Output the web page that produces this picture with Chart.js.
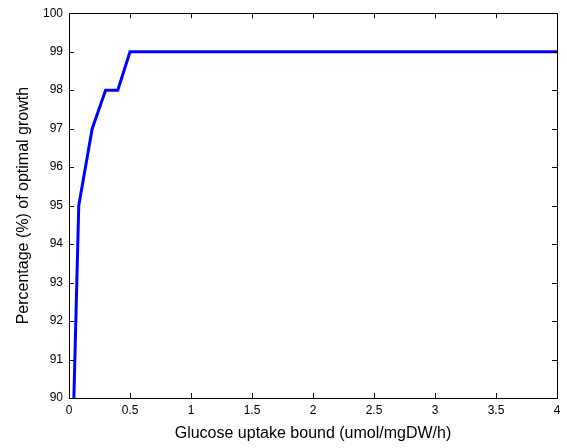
<!DOCTYPE html>
<html>
<head>
<meta charset="utf-8">
<script src="https://cdn.jsdelivr.net/npm/chart.js@4"></script>
<style>
  html, body { margin: 0; padding: 0; background: #fff; }
  #wrap { width: 567px; height: 448px; }
</style>
</head>
<body>
<div id="wrap"><canvas id="chart" width="567" height="448"></canvas></div>
<script>
// glucose uptake bound vs % of optimal growth
const uptake = [0.04, 0.08, 0.19, 0.3, 0.4, 0.5, 4];
const growth = [90, 95, 97, 98, 98, 99, 99];
const xTicks = [0, 0.5, 1, 1.5, 2, 2.5, 3, 3.5, 4];
const yTicks = [90, 91, 92, 93, 94, 95, 96, 97, 98, 99, 100];

const points = uptake.map((x, i) => ({ x: x, y: growth[i] }));
const font = "'Liberation Sans', Arial, sans-serif";

// matlab style box with inward ticks
const boxTicks = {
  id: "boxTicks",
  afterDraw(chart) {
    const { ctx, chartArea: a, scales } = chart;
    const len = 5;
    ctx.save();
    ctx.strokeStyle = "#000";
    ctx.lineWidth = 1;
    ctx.beginPath();
    xTicks.forEach((v) => {
      const px = Math.round(scales.x.getPixelForValue(v)) + 0.5;
      ctx.moveTo(px, a.bottom); ctx.lineTo(px, a.bottom - len);
      ctx.moveTo(px, a.top); ctx.lineTo(px, a.top + len);
    });
    yTicks.forEach((v) => {
      const py = Math.round(scales.y.getPixelForValue(v)) + 0.5;
      ctx.moveTo(a.left, py); ctx.lineTo(a.left + len, py);
      ctx.moveTo(a.right, py); ctx.lineTo(a.right - len, py);
    });
    ctx.stroke();
    ctx.strokeRect(Math.round(a.left) + 0.5, Math.round(a.top) + 0.5,
      Math.round(a.right - a.left), Math.round(a.bottom - a.top));
    ctx.restore();
  }
};

new Chart(document.getElementById("chart"), {
  type: "line",
  data: {
    datasets: [{
      data: points,
      borderColor: "#0000ff",
      borderWidth: 3,
      pointRadius: 0,
      tension: 0,
      fill: false
    }]
  },
  options: {
    responsive: false,
    animation: false,
    layout: { padding: { top: 12, right: 10, left: 0, bottom: 0 } },
    plugins: { legend: { display: false }, tooltip: { enabled: false } },
    scales: {
      x: {
        type: "linear",
        min: 0,
        max: 4,
        afterBuildTicks: (s) => { s.ticks = xTicks.map((v) => ({ value: v })); },
        afterFit: (s) => { s.height = 50; },
        grid: { display: false, drawTicks: false },
        border: { display: false },
        ticks: {
          padding: 5,
          color: "#000",
          font: { family: font, size: 12 },
          callback: (v) => String(v)
        },
        title: {
          display: true,
          text: "Glucose uptake bound (umol/mgDW/h)",
          color: "#000",
          font: { family: font, size: 16 },
          padding: { top: 0, bottom: 5 }
        }
      },
      y: {
        min: 90,
        max: 100,
        afterBuildTicks: (s) => { s.ticks = yTicks.map((v) => ({ value: v })); },
        afterFit: (s) => { s.width = 69; },
        grid: { display: false, drawTicks: false },
        border: { display: false },
        ticks: {
          padding: 6,
          color: "#000",
          font: { family: font, size: 12 },
          callback: (v) => String(v)
        },
        title: {
          display: true,
          text: "Percentage (%) of optimal growth",
          color: "#000",
          font: { family: font, size: 16 },
          padding: { top: 14, bottom: 0 }
        }
      }
    }
  },
  plugins: [boxTicks]
});
</script>
</body>
</html>
